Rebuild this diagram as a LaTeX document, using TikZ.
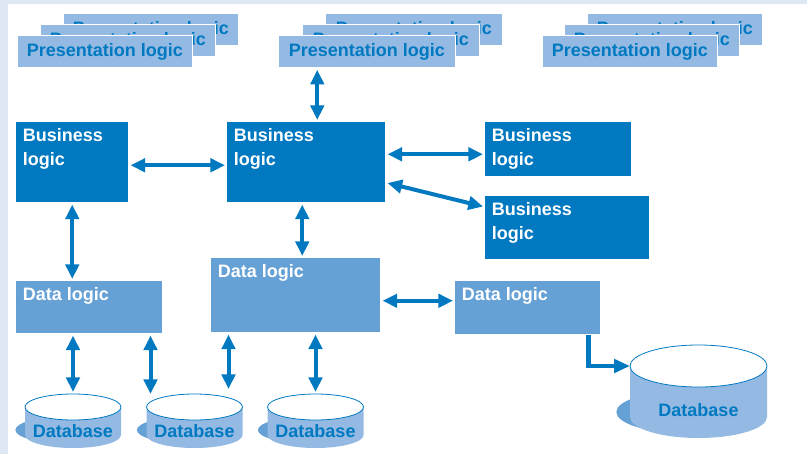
\documentclass[tikz,border=0pt]{standalone}
\usepackage{fontspec}
\setmainfont{Liberation Sans}
\usetikzlibrary{arrows.meta,calc}

\definecolor{bizblue}{RGB}{0,121,193}
\definecolor{datablue}{RGB}{102,161,214}
\definecolor{presblue}{RGB}{148,186,227}
\definecolor{frameblue}{RGB}{221,232,244}

% database drum: name, top centre x, top centre y, x radius, y radius, body height
\newcommand{\dbdrum}[6]{%
  \fill[datablue] (#2-#4*0.2,#3+#6-5) ellipse[x radius=#4,y radius=#5];
  \fill[presblue] (#2-#4,#3) -- (#2-#4,#3+#6)
    arc[start angle=180,end angle=0,x radius=#4,y radius=#5] -- (#2+#4,#3) -- cycle;
  \filldraw[fill=white,draw=bizblue,line width=0.6pt] (#2,#3) ellipse[x radius=#4,y radius=#5];
  \node[dbtext] (#1) at (#2,#3+#6-#5/3) {Database};
  \coordinate (#1rim) at (#2,#3-#5);
  \coordinate (#1west) at (#2-#4,#3);
}

\begin{document}
\begin{tikzpicture}[x=0.75pt,y=-0.75pt,>={Triangle[length=11pt,width=10pt]},
  font=\fontsize{13.5}{18}\selectfont\bfseries]
\tikzstyle{pres}=[anchor=north west,fill=presblue,draw=white,line width=0.6pt,text=bizblue,minimum height=24pt,inner sep=0pt]
\tikzstyle{biz}=[anchor=north west,fill=bizblue,inner sep=0pt]
\tikzstyle{data}=[anchor=north west,fill=datablue,inner sep=0pt]
\tikzstyle{tag}=[anchor=north west,align=left,text=white,inner xsep=5pt,inner ysep=4.5pt]
\tikzstyle{dbtext}=[text=bizblue,inner sep=0pt]
\tikzstyle{link}=[<->,draw=bizblue,line width=3pt,shorten <=1.5pt,shorten >=1.5pt]
\tikzstyle{elbow}=[-{Triangle[length=12pt,width=10pt]},draw=bizblue,line width=3.5pt]

\useasboundingbox (0,0) rectangle (807,454);
\fill[frameblue] (0,0) rectangle (807,4);
\fill[frameblue] (0,0) rectangle (8,454);

% presentation stacks, back to front
\node[pres,minimum width=131.25pt] (pleft3) at (63,13) {Presentation logic};
\node[pres,minimum width=131.25pt] (pleft2) at (40,24) {Presentation logic};
\node[pres,minimum width=131.25pt] (pleft) at (17,35) {Presentation logic};

\node[pres,minimum width=132.75pt] (pmid3) at (325,13) {Presentation logic};
\node[pres,minimum width=132.75pt] (pmid2) at (302,24) {Presentation logic};
\node[pres,minimum width=132.75pt] (pmid) at (278,35) {Presentation logic};

\node[pres,minimum width=131.25pt] (pright3) at (587,13) {Presentation logic};
\node[pres,minimum width=131.25pt] (pright2) at (564,24) {Presentation logic};
\node[pres,minimum width=131.25pt] (pright) at (542,35) {Presentation logic};

% business tier
\node[biz,minimum width=84pt,minimum height=60pt,label={[tag]north west:Business\\logic}] (bizleft) at (16,122) {};
\node[biz,minimum width=118.5pt,minimum height=60pt,label={[tag]north west:Business\\logic}] (bizmid) at (227,122) {};
\node[biz,minimum width=109.5pt,minimum height=40.5pt,label={[tag]north west:Business\\logic}] (bizright) at (485,122) {};
\node[biz,minimum width=123pt,minimum height=47.25pt,label={[tag]north west:Business\\logic}] (bizlow) at (485,196) {};

% data tier
\node[data,minimum width=109.5pt,minimum height=39pt,label={[tag]north west:Data logic}] (dataleft) at (16,281) {};
\node[data,minimum width=126.75pt,minimum height=55.5pt,label={[tag]north west:Data logic}] (datamid) at (211,258) {};
\node[data,minimum width=108.75pt,minimum height=39.75pt,label={[tag]north west:Data logic}] (dataright) at (455,281) {};

% databases
\dbdrum{dbone}{73}{407}{48}{13}{28}
\dbdrum{dbtwo}{194.5}{407}{48}{13}{28}
\dbdrum{dbthree}{315.5}{407}{48}{13}{28}
\dbdrum{dbbig}{698.5}{366}{68.5}{21}{51}
\coordinate (dbtwoleft) at ($(dbtworim)+(-44,2)$);
\coordinate (dbtworight) at ($(dbtworim)+(34,-3)$);

\draw[link] ($(bizmid.north)+(11,0)$) -- ($(bizmid.north |- pmid.south)+(11,0)$);
\draw[link] ($(bizleft.east)+(0,3)$) -- ($(bizleft.east -| bizmid.west)+(0,3)$);
\draw[link] (bizleft.south) -- (bizleft.south |- dataleft.north);
\draw[link] ($(bizmid.east |- bizright.west)+(0,5)$) -- ($(bizright.west)+(0,5)$);
\draw[link] ($(bizmid.south east)+(0,-20)$) -- ($(bizlow.north west)+(0,11)$);
\draw[link] ($(bizmid.south)+(-4,0)$) -- ($(bizmid.south |- datamid.north)+(-4,0)$);
\draw[link] ($(datamid.east |- dataright.west)+(0,-7)$) -- ($(dataright.west)+(0,-7)$);

\draw[link] (dataleft.south -| dbonerim) -- (dbonerim);
\draw[link] (dataleft.south -| dbtwoleft) -- (dbtwoleft);
\draw[link] (datamid.south -| dbtworight) -- (dbtworight);
\draw[link] (datamid.south -| dbthreerim) -- (dbthreerim);
\draw[elbow] ($(dataright.south east)+(-12,0)$) |- (dbbigwest);
\end{tikzpicture}
\end{document}
